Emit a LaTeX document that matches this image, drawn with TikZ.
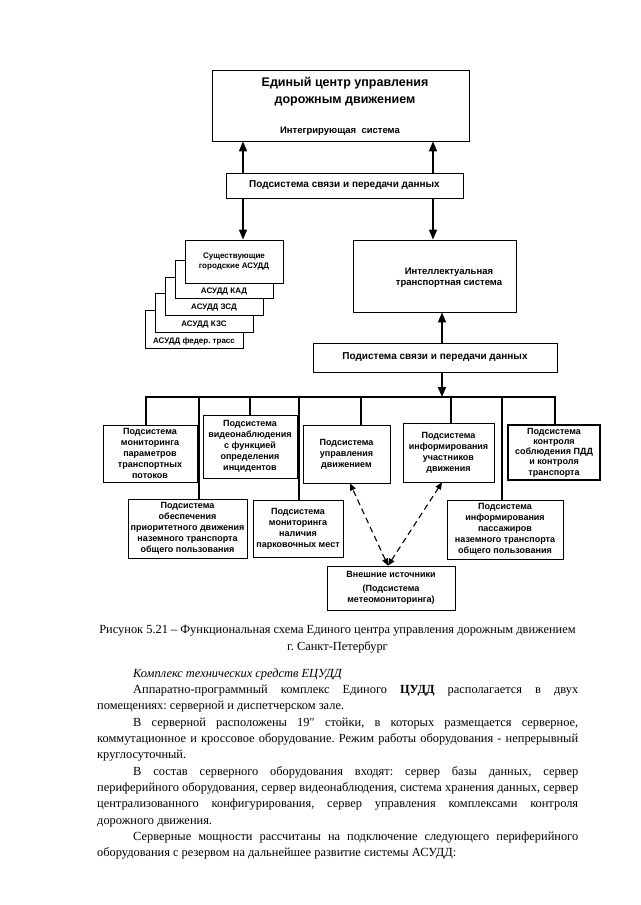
\documentclass[tikz,border=0pt]{standalone}
\usepackage{fontspec}
\setmainfont{Liberation Serif}
\newfontfamily\arialfont{Liberation Sans}
\usetikzlibrary{
	arrows.meta,
	positioning
}
\hyphenpenalty=10000
\tolerance=9999
\frenchspacing

\begin{document}
\begin{tikzpicture}[x=1pt,y=-1pt,
				box/.style={
					rectangle, draw, fill=white, line width=0.8pt,
					align=center, inner sep=1pt,
					font=\arialfont\bfseries\fontsize{9}{11}\selectfont
				},
				bigbox/.style={
					box, font=\arialfont\bfseries\fontsize{10}{12}\selectfont
				},
				stackbox/.style={
					box, minimum width=98pt, minimum height=43pt,
					font=\arialfont\bfseries\fontsize{8}{10}\selectfont
				},
				backbox/.style={
					stackbox, minimum height=38.5pt
				},
				stacklabel/.style={
					inner sep=0pt, font=\arialfont\bfseries\fontsize{8}{10}\selectfont
				},
				wire/.style={line width=1.6pt},
				arrow/.style={wire, -{Triangle[length=10pt,width=8pt]}},
				dasharrow/.style={
					line width=1.1pt, dash pattern=on 6pt off 4pt,
					{Triangle[length=7pt,width=6pt]}-{Triangle[length=7pt,width=6pt]}
				},
				plain/.style={
					inner sep=0pt, font=\fontsize{12.4}{16.3}\selectfont
				}
				]
				
				\useasboundingbox[fill=white] (0,0) rectangle (640,905);
				
				% Unified centre
				\node[bigbox, minimum width=257pt, minimum height=71pt] (ecudd) at (340.5,105.5) {};
				\node[font=\arialfont\bfseries\fontsize{12.5}{17}\selectfont, align=center] (ecuddtitle) at (345,91.5) {Единый центр управления\\дорожным движением};
				\node[font=\arialfont\bfseries\fontsize{9.5}{11}\selectfont] (integr) at (340,131) {Интегрирующая\ \ система};
				
				% data link (upper)
				\node[bigbox, minimum width=237pt, minimum height=25pt] (svyaz1) at (344.5,185.5) {Подсистема связи и передачи данных};
				
				% existing city systems (stack)
				\foreach \k/\t in {4/{АСУДД федер. трасс}, 3/{АСУДД КЗС}, 2/{АСУДД ЗСД}, 1/{АСУДД КАД}} {
					\node[backbox] (asudd\k) at ({234-10*\k},{262.75+16.7*\k}) {};
					\node[stacklabel] (asuddlbl\k) at ([yshift=8pt]asudd\k.south) {\t};
				}
				\node[stackbox] (sush) at (234,261.5) {Существующие\\городские АСУДД};
				
				% ITS
				\node[box, minimum width=163pt, minimum height=72pt] (its) at (434.5,276) {};
				\node[font=\arialfont\bfseries\fontsize{9.5}{11.5}\selectfont, align=center] (itstext) at (449,277.5) {Интеллектуальная\\транспортная система};
				
				% data link (lower)
				\node[bigbox, minimum width=244pt, minimum height=29pt] (svyaz2) at (435,357.5) {Подистема связи и передачи данных};
				
				% subsystems
				\node[box, minimum width=94pt, minimum height=57pt] (monitor) at (150,453.5) {Подсистема\\мониторинга\\параметров\\транспортных\\потоков};
				\node[box, minimum width=94pt, minimum height=63pt] (video) at (250,446.5) {Подсистема\\видеонаблюдения\\с функцией\\определения\\инцидентов};
				\node[box, minimum width=87pt, minimum height=58pt] (control) at (346.5,454) {Подсистема\\управления\\движением};
				\node[box, minimum width=91pt, minimum height=59pt] (inform) at (448.5,452.5) {Подсистема\\информирования\\участников\\движения};
				\node[box, line width=1.6pt, minimum width=92pt, minimum height=55pt, font=\arialfont\bfseries\fontsize{9}{10.2}\selectfont] (pdd) at (554,452.5) {Подсистема\\контроля\\соблюдения ПДД\\и контроля\\транспорта};
				\node[box, minimum width=119pt, minimum height=59pt] (priority) at (187.5,528.5) {Подсистема\\обеспечения\\приоритетного движения\\наземного транспорта\\общего пользования};
				\node[box, minimum width=90pt, minimum height=57pt] (parking) at (298,528.5) {Подсистема\\мониторинга\\наличия\\парковочных мест};
				\node[box, minimum width=116pt, minimum height=59pt] (passenger) at (505,529.5) {Подсистема\\информирования\\пассажиров\\наземного транспорта\\общего пользования};
				\node[box, minimum width=128pt, minimum height=44pt] (external) at (391,588) {Внешние источники\\[3pt](Подсистема\\метеомониторинга)};
				
				% arrow columns
				\coordinate (lx) at (243,0);
				\coordinate (rx) at (433,0);
				
				\draw[arrow] (svyaz1.north -| lx) -- (ecudd.south -| lx);
				\draw[arrow] (svyaz1.north -| rx) -- (ecudd.south -| rx);
				\draw[arrow] (svyaz1.south -| lx) -- (sush.north -| lx);
				\draw[arrow] (svyaz1.south -| rx) -- (its.north -| rx);
				
				% bus
				\coordinate (bus) at (442,397);
				\coordinate (busL) at (146,397);
				\coordinate (busR) at (555,397);
				\draw[arrow] (svyaz2.north -| bus) -- (its.south -| bus);
				\draw[arrow] (svyaz2.south -| bus) -- (bus);
				\draw[wire, line cap=rect] (busL) -- (busR);
				\foreach \x/\b in {146/monitor, 199/priority, 250/video, 299/parking, 361/control, 451/inform, 502/passenger, 555/pdd}
					\draw[wire] (bus -| \x,0) -- (\b.north -| \x,0);
				
				% external sources
				\draw[dasharrow] ([xshift=-3pt]external.north) -- ([xshift=3.5pt]control.south);
				\draw[dasharrow] ([xshift=-3pt]external.north) -- ([xshift=-6.5pt]inform.south);
				
				% caption
				\node[plain, anchor=north, align=center] (caption) at (337.5,625.5) {Рисунок 5.21 – Функциональная схема Единого центра управления дорожным движением\\г. Санкт-Петербург};
				
				% text below the figure
				\node[plain, anchor=north west, text width=481pt, align=justify] (body) at (97,668.5) {%
					\hspace*{36pt}\textit{Комплекс технических средств ЕЦУДД}\par
					\hspace*{36pt}Аппаратно-программный комплекс Единого \textbf{ЦУДД} располагается в двух \linebreak помещениях: серверной и диспетчерском зале.\par
					\hspace*{36pt}В серверной расположены 19″ стойки, в которых размещается серверное, \linebreak коммутационное и кроссовое оборудование. Режим работы оборудования - непрерывный \linebreak круглосуточный.\par
					\hspace*{36pt}В состав серверного оборудования входят: сервер базы данных, сервер \linebreak периферийного оборудования, сервер видеонаблюдения, система хранения данных, сервер \linebreak централизованного конфигурирования, сервер управления комплексами контроля \linebreak дорожного движения.\par
					\hspace*{36pt}Серверные мощности рассчитаны на подключение следующего периферийного \linebreak оборудования с резервом на дальнейшее развитие системы АСУДД:};
			\end{tikzpicture}
\end{document}
